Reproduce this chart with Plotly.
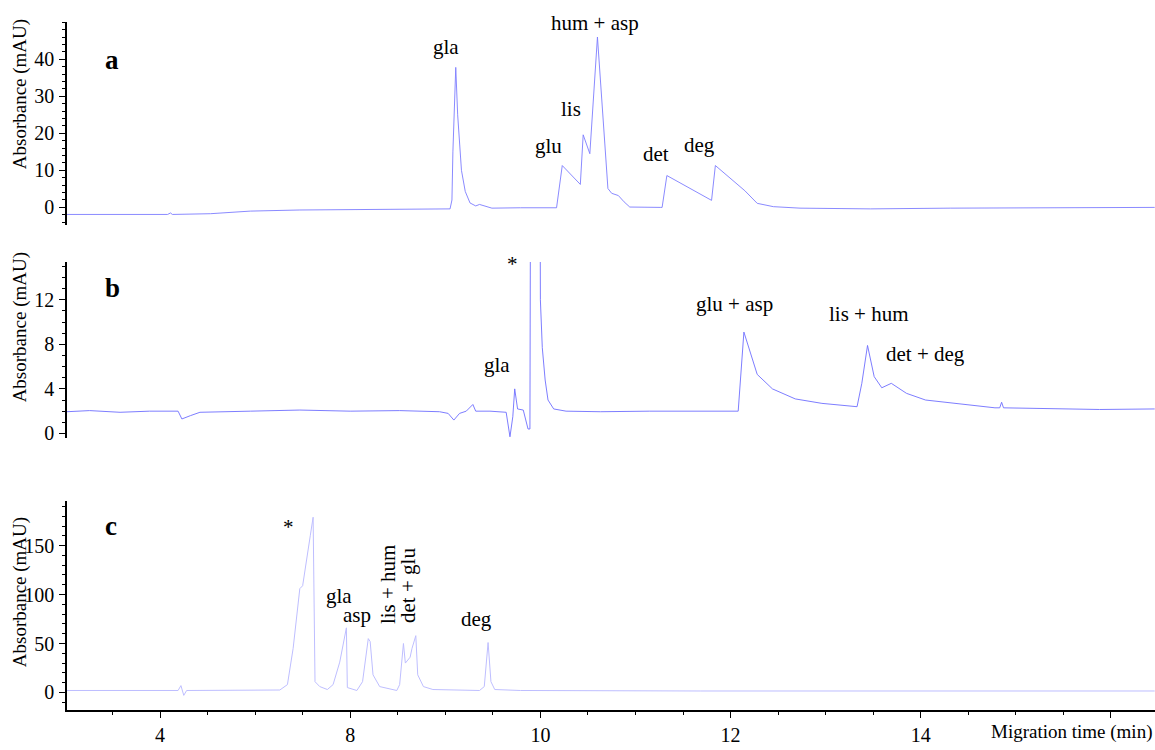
import plotly.graph_objects as go

# ---------------- data ----------------
# Panel a
a_time = [5.02, 5.58, 6.08, 6.11, 6.13, 6.53, 6.95, 7.47, 8.52, 9.05, 9.07, 9.08, 9.11, 9.13, 9.17,
          9.21, 9.26, 9.32, 9.36, 9.43, 9.49, 9.79, 10.17, 10.23, 10.42, 10.45, 10.52, 10.60, 10.66,
          10.71, 10.75, 10.82, 10.88, 10.94, 11.26, 11.28, 11.33, 11.57, 11.80, 11.84, 12.03, 12.15,
          12.28, 12.45, 12.73, 13.47, 14.31, 15.36, 16.46]
a_abs = [-1.9, -1.9, -1.9, -1.5, -1.9, -1.7, -1.0, -0.7, -0.5, -0.4, 2.0, 15.0, 37.8, 25.0, 10.0,
         4.3, 1.2, 0.4, 0.8, 0.3, -0.2, -0.1, -0.1, 11.3, 6.2, 19.6, 14.5, 46.0, 25.0,
         5.1, 3.8, 3.2, 1.5, 0.1, 0.0, 0.0, 8.6, 5.2, 1.9, 11.3, 7.2, 4.5,
         1.1, 0.2, -0.2, -0.4, -0.2, -0.1, 0.0]

# Panel b
b_time = [5.02, 5.26, 5.58, 5.89, 6.19, 6.23, 6.32, 6.42, 6.95, 7.47, 8.00, 8.52, 8.94, 9.03, 9.09,
          9.15, 9.22, 9.29, 9.32, 9.47, 9.64, 9.68, 9.71, 9.73, 9.76, 9.82, 9.87, 9.89, 9.945, 10.00,
          10.02, 10.05, 10.08, 10.14, 10.27, 10.63, 11.15, 11.68, 12.08, 12.14, 12.20, 12.28, 12.44,
          12.68, 12.96, 13.33, 13.38, 13.44, 13.51, 13.59, 13.69, 13.85, 14.05, 14.45, 14.78, 14.83,
          14.85, 14.87, 15.36, 15.88, 16.46]
b_abs = [1.95, 2.05, 1.9, 2.0, 2.0, 1.3, 1.6, 1.9, 2.0, 2.1, 2.0, 2.05, 1.95, 1.8, 1.2,
         1.8, 2.0, 2.6, 2.0, 2.0, 1.9, -0.3, 1.5, 4.0, 2.2, 2.1, 0.4, 0.4, 200.0, 12.0,
         7.7, 4.8, 3.0, 2.2, 2.0, 1.95, 2.0, 2.0, 2.0, 9.1, 7.5, 5.3, 4.0,
         3.1, 2.7, 2.4, 4.5, 7.9, 5.1, 4.1, 4.5, 3.6, 3.0, 2.6, 2.3, 2.3,
         2.8, 2.3, 2.2, 2.15, 2.2]

# Panel c
c_time = [5.02, 6.19, 6.22, 6.25, 6.28, 6.95, 7.26, 7.34, 7.40, 7.47, 7.50, 7.58, 7.61, 7.63, 7.68,
          7.76, 7.82, 7.89, 7.96, 7.97, 8.07, 8.13, 8.19, 8.21, 8.24, 8.31, 8.49, 8.52, 8.54, 8.56,
          8.58, 8.63, 8.65, 8.69, 8.71, 8.77, 8.87, 9.36, 9.41, 9.45, 9.48, 9.52, 9.79, 11.68, 16.46]
c_abs = [2.0, 2.0, 7.0, -3.0, 2.0, 2.0, 2.5, 8.0, 45.0, 106.0, 109.0, 160.0, 179.0, 11.0, 6.0,
         3.0, 8.0, 31.0, 66.0, 5.0, 2.0, 11.0, 55.0, 52.0, 18.0, 6.0, 2.0, 8.0, 31.0, 50.0,
         30.0, 36.0, 45.0, 58.0, 18.0, 6.0, 3.0, 2.0, 6.0, 51.0, 11.0, 3.0, 2.0, 1.5, 1.5]

# Peak labels
a_labels = ["gla", "hum + asp", "lis", "glu", "det", "deg"]
b_labels = ["*", "gla", "glu + asp", "lis + hum", "det + deg"]
c_labels = ["*", "gla", "asp", "lis + hum", "det + glu", "deg"]
panel_letters = ["a", "b", "c"]

# Axis ticks
x_tick_vals = [6, 8, 10, 12, 14, 16]
x_tick_text = ["4", "8", "10", "12", "14", ""]
a_y_ticks = [0, 10, 20, 30, 40]
b_y_ticks = [0, 4, 8, 12]
c_y_ticks = [0, 50, 100, 150]

# ---------------- layout / style ----------------
# label positions (data coordinates of each panel)
a_label_pos = [(9.01, 43.2), (10.57, 49.9), (10.32, 26.5), (10.09, 16.6), (11.22, 14.5), (11.67, 16.9)]
b_label_pos = [(9.71, 15.2), (9.54, 6.1), (12.04, 11.6), (13.46, 10.7), (14.05, 7.1)]
c_label_pos = [(7.35, 169), (7.88, 99), (8.07, 79), (8.39, 111), (8.61, 109), (9.33, 75)]
c_label_angle = [0, 0, 0, -90, -90, 0]

FONT = "Liberation Serif"
W, H = 1155, 750
L = 67
XR = [5.022, 16.463]

def py(px):
    return 1 - px / H

dom_a = [py(227), py(22)]
dom_b = [py(442), py(264)]
dom_c = [py(716), py(505)]

fig = go.Figure()
fig.add_trace(go.Scatter(x=a_time, y=a_abs, mode="lines", xaxis="x2", yaxis="y2",
                         line=dict(color="rgb(125,125,255)", width=0.9), showlegend=False))
fig.add_trace(go.Scatter(x=b_time, y=b_abs, mode="lines", xaxis="x3", yaxis="y3",
                         line=dict(color="rgb(110,110,255)", width=0.9), showlegend=False))
fig.add_trace(go.Scatter(x=c_time, y=c_abs, mode="lines", xaxis="x", yaxis="y",
                         line=dict(color="rgb(190,190,255)", width=1.0), showlegend=False))

tickfont = dict(family=FONT, size=20, color="black")

def yax(dom, rng, ticks, minor_dt, anchor):
    return dict(domain=dom, range=rng, anchor=anchor, showgrid=False, zeroline=False,
                showline=True, linecolor="black", linewidth=1.5, ticks="outside",
                ticklen=6, tickwidth=1.2, tickcolor="black", tickvals=ticks,
                tickfont=tickfont, ticklabelstandoff=1,
                minor=dict(dtick=minor_dt, ticks="outside", ticklen=3, tickcolor="black",
                           tickwidth=1, showgrid=False))

hidden_x = dict(domain=[0, 1], range=XR, showline=False, showgrid=False, zeroline=False,
                showticklabels=False, ticks="")

layout = dict(
    width=W, height=H, plot_bgcolor="white", paper_bgcolor="white",
    font=dict(family=FONT, color="black"),
    margin=dict(l=L, r=0, t=0, b=0),
    xaxis=dict(domain=[0, 1], range=XR, anchor="y", showgrid=False, zeroline=False,
               showline=True, linecolor="black", linewidth=1.5, ticks="outside", ticklen=6,
               tickwidth=1.2, tickcolor="black", tickvals=x_tick_vals, ticktext=x_tick_text,
               tickfont=tickfont,
               minor=dict(dtick=0.5, ticks="outside", ticklen=3, tickcolor="black", tickwidth=1,
                          showgrid=False)),
    xaxis2=dict(hidden_x, anchor="y2"),
    xaxis3=dict(hidden_x, anchor="y3"),
    yaxis=yax(dom_c, [-18.2, 195.6], c_y_ticks, 10, "x"),
    yaxis2=yax(dom_a, [-4.8, 50.1], a_y_ticks, 2, "x2"),
    yaxis3=yax(dom_b, [-0.45, 15.4], b_y_ticks, 1, "x3"),
)
fig.update_layout(**layout)

lab_font = dict(family=FONT, size=21, color="black")
ann = []
for t, (x, y) in zip(a_labels, a_label_pos):
    ann.append(dict(x=x, y=y, xref="x2", yref="y2", text=t, showarrow=False, font=lab_font,
                    xanchor="center", yanchor="middle"))
for t, (x, y) in zip(b_labels, b_label_pos):
    ann.append(dict(x=x, y=y, xref="x3", yref="y3", text=t, showarrow=False, font=lab_font,
                    xanchor="center", yanchor="middle"))
for t, (x, y), ang in zip(c_labels, c_label_pos, c_label_angle):
    ann.append(dict(x=x, y=y, xref="x", yref="y", text=t, showarrow=False, font=lab_font,
                    textangle=ang, xanchor="center", yanchor="middle"))

letter_pos = [(112, 60), (112, 290), (111, 530)]
for t, (px, pyy) in zip(panel_letters, letter_pos):
    ann.append(dict(x=(px - L) / (W - L), y=py(pyy), xref="paper", yref="paper",
                    text="<b>%s</b>" % t, showarrow=False, xanchor="center", yanchor="middle",
                    font=dict(family=FONT, size=27, color="black")))

ytitle_y = [95, 330, 597]
for pyy in ytitle_y:
    ann.append(dict(x=(20 - L) / (W - L), y=py(pyy), xref="paper", yref="paper",
                    text="Absorbance (mAU)", showarrow=False, textangle=-90,
                    xanchor="center", yanchor="middle",
                    font=dict(family=FONT, size=19, color="black")))

ann.append(dict(x=0.999, y=py(738), xref="paper", yref="paper", text="Migration time (min)",
                xanchor="right", yanchor="middle", showarrow=False,
                font=dict(family=FONT, size=19, color="black")))

fig.update_layout(annotations=ann)
fig.write_html("out.html", config={"displayModeBar": False},
               post_script="document.body.style.margin='0';document.body.style.overflow='hidden';")
